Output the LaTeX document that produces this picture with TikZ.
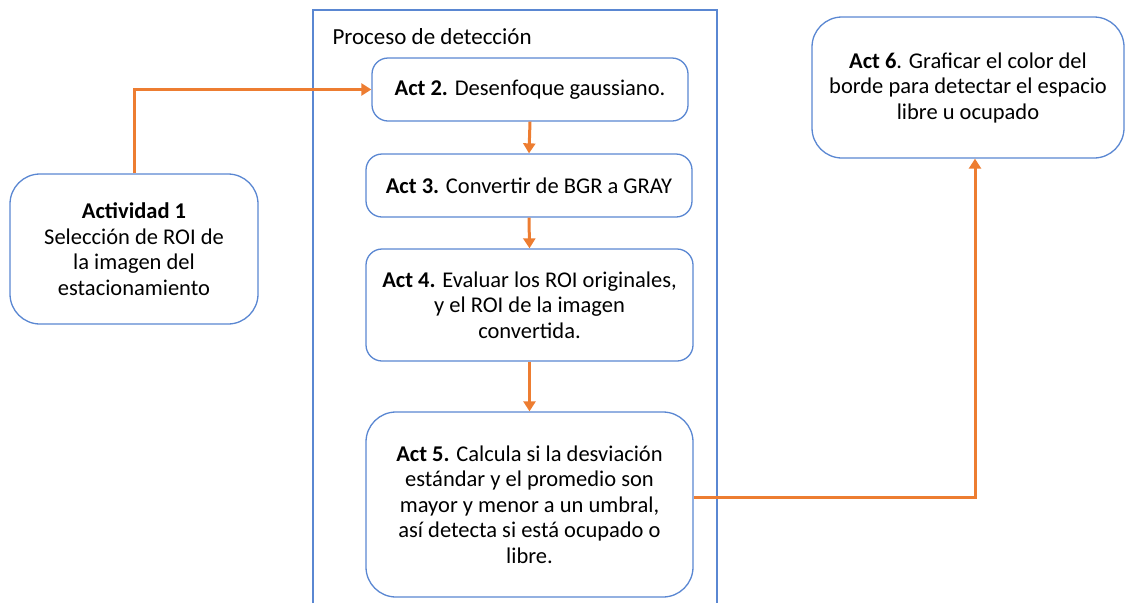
\documentclass[tikz,border=0pt]{standalone}
\usepackage{fontspec}
\setmainfont{Carlito}
\usetikzlibrary{arrows.meta, positioning}
\definecolor{boxblue}{HTML}{5A87D2}
\definecolor{flecha}{HTML}{ED7D31}
\tikzset{>={Triangle[width=12pt,length=10pt]}}
\tikzset{
  actbox/.style={draw=boxblue, line width=1.3pt, fill=white, rounded corners=16pt, align=center,
    font=\fontsize{22.5}{25.5}\selectfont, inner sep=0pt},
  bigbox/.style={actbox, rounded corners=30pt},
  flow/.style={draw=flecha, line width=3pt, ->}
}

\begin{document}
\begin{tikzpicture}[x=1pt, y=-1pt]
\useasboundingbox (0,0) rectangle (1126,603);

% contenedor del proceso
\draw[boxblue, line width=1.3pt] (313,603) -- (313,10) -- (717,10) -- (717,603);
\node[anchor=west, font=\fontsize{23}{26}\selectfont] (titulo) at (329,37) {Proceso de detección};

\node[bigbox, minimum width=248pt, minimum height=150pt] (act1) at (134,249)
  {\textbf{Actividad 1}\\Selección de ROI de\\la imagen del\\estacionamiento};
\node[actbox, minimum width=316pt, minimum height=63pt] (act2) at (530,89.5)
  {\textbf{Act 2.} Desenfoque gaussiano.};
\node[actbox, minimum width=326pt, minimum height=63pt] (act3) at (529,185.5)
  {\textbf{Act 3.} Convertir de BGR a GRAY};
\node[actbox, minimum width=327pt, minimum height=112pt] (act4) at (529.5,305)
  {\textbf{Act 4.} Evaluar los ROI originales,\\y el ROI de la imagen\\convertida.};
\node[bigbox, minimum width=327pt, minimum height=185pt] (act5) at (529.5,504.5)
  {\textbf{Act 5.} Calcula si la desviación\\estándar y el promedio son\\mayor y menor a un umbral,\\así detecta si está ocupado o\\libre.};
\node[bigbox, minimum width=312pt, minimum height=141pt] (act6) at (968,87.5)
  {\textbf{Act 6}. Graficar el color del\\borde para detectar el espacio\\libre u ocupado};

% flechas
\draw[flow] (act1.north) |- (act2.west);
\draw[flow] (act2.south) -- (act3.north);
\draw[flow] (act3.south) -- (act4.north);
\draw[flow] (act4.south) -- (act5.north);
\draw[flow] ([yshift=7.5pt]act5.east) -| ([xshift=7pt]act6.south);

\end{tikzpicture}
\end{document}
